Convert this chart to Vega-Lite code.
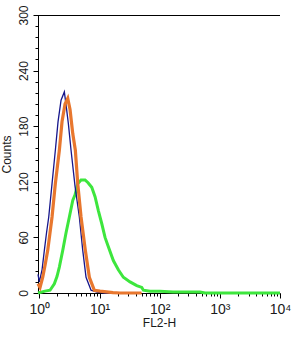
{
  "$schema": "https://vega.github.io/schema/vega-lite/v6.json",
  "width": 242,
  "height": 278,
  "autosize": {"type": "none"},
  "padding": {"left": 38, "top": 15, "right": 25, "bottom": 49},
  "config": {
    "view": {"stroke": null},
    "font": "Liberation Sans",
    "axis": {"grid": false, "domainColor": "#000", "tickColor": "#000", "labelColor": "#1a1a1a", "titleColor": "#1a1a1a", "labelFont": "Liberation Sans", "titleFont": "Liberation Sans", "titleFontWeight": "normal"}
  },
  "data": {
    "values": [
      {"series": "green", "fl2h": 0.95, "count": 0},
      {"series": "green", "fl2h": 1.244, "count": 2},
      {"series": "green", "fl2h": 1.506, "count": 3},
      {"series": "green", "fl2h": 1.776, "count": 10},
      {"series": "green", "fl2h": 1.969, "count": 18},
      {"series": "green", "fl2h": 2.15, "count": 28},
      {"series": "green", "fl2h": 2.449, "count": 46},
      {"series": "green", "fl2h": 2.779, "count": 65},
      {"series": "green", "fl2h": 3.153, "count": 82},
      {"series": "green", "fl2h": 3.592, "count": 100},
      {"series": "green", "fl2h": 3.922, "count": 106},
      {"series": "green", "fl2h": 4.348, "count": 118},
      {"series": "green", "fl2h": 4.933, "count": 122},
      {"series": "green", "fl2h": 5.749, "count": 122},
      {"series": "green", "fl2h": 6.449, "count": 119},
      {"series": "green", "fl2h": 7.43, "count": 114},
      {"series": "green", "fl2h": 8.433, "count": 104},
      {"series": "green", "fl2h": 9.566, "count": 89},
      {"series": "green", "fl2h": 10.89, "count": 75},
      {"series": "green", "fl2h": 12.36, "count": 60},
      {"series": "green", "fl2h": 14.03, "count": 50},
      {"series": "green", "fl2h": 16.98, "count": 35},
      {"series": "green", "fl2h": 20.56, "count": 25},
      {"series": "green", "fl2h": 24.91, "count": 17},
      {"series": "green", "fl2h": 32.19, "count": 12},
      {"series": "green", "fl2h": 41.6, "count": 8},
      {"series": "green", "fl2h": 50.4, "count": 6},
      {"series": "green", "fl2h": 53.6, "count": 3},
      {"series": "green", "fl2h": 69.2, "count": 2},
      {"series": "green", "fl2h": 101.4, "count": 2},
      {"series": "green", "fl2h": 166.7, "count": 1},
      {"series": "green", "fl2h": 469, "count": 1},
      {"series": "green", "fl2h": 568, "count": 0},
      {"series": "green", "fl2h": 10000, "count": 0},
      {"series": "blue", "fl2h": 0.95, "count": 20},
      {"series": "blue", "fl2h": 1.0, "count": 12},
      {"series": "blue", "fl2h": 1.109, "count": 25},
      {"series": "blue", "fl2h": 1.211, "count": 46},
      {"series": "blue", "fl2h": 1.317, "count": 65},
      {"series": "blue", "fl2h": 1.433, "count": 82},
      {"series": "blue", "fl2h": 1.626, "count": 118},
      {"series": "blue", "fl2h": 1.845, "count": 154},
      {"series": "blue", "fl2h": 2.046, "count": 185},
      {"series": "blue", "fl2h": 2.295, "count": 208},
      {"series": "blue", "fl2h": 2.604, "count": 217},
      {"series": "blue", "fl2h": 2.779, "count": 203},
      {"series": "blue", "fl2h": 3.034, "count": 183},
      {"series": "blue", "fl2h": 3.365, "count": 154},
      {"series": "blue", "fl2h": 3.922, "count": 115},
      {"series": "blue", "fl2h": 4.622, "count": 82},
      {"series": "blue", "fl2h": 5.265, "count": 46},
      {"series": "blue", "fl2h": 5.973, "count": 17},
      {"series": "blue", "fl2h": 7.235, "count": 3},
      {"series": "blue", "fl2h": 9.101, "count": 1},
      {"series": "blue", "fl2h": 12.36, "count": 0},
      {"series": "blue", "fl2h": 30, "count": 0},
      {"series": "orange", "fl2h": 0.95, "count": 10},
      {"series": "orange", "fl2h": 1.027, "count": 6},
      {"series": "orange", "fl2h": 1.139, "count": 17},
      {"series": "orange", "fl2h": 1.244, "count": 30},
      {"series": "orange", "fl2h": 1.379, "count": 46},
      {"series": "orange", "fl2h": 1.626, "count": 82},
      {"series": "orange", "fl2h": 1.845, "count": 118},
      {"series": "orange", "fl2h": 2.15, "count": 154},
      {"series": "orange", "fl2h": 2.384, "count": 185},
      {"series": "orange", "fl2h": 2.674, "count": 204},
      {"series": "orange", "fl2h": 2.966, "count": 210},
      {"series": "orange", "fl2h": 3.238, "count": 198},
      {"series": "orange", "fl2h": 3.592, "count": 172},
      {"series": "orange", "fl2h": 3.967, "count": 154},
      {"series": "orange", "fl2h": 4.348, "count": 118},
      {"series": "orange", "fl2h": 4.933, "count": 82},
      {"series": "orange", "fl2h": 5.815, "count": 46},
      {"series": "orange", "fl2h": 6.779, "count": 17},
      {"series": "orange", "fl2h": 8.209, "count": 3},
      {"series": "orange", "fl2h": 10.2, "count": 2},
      {"series": "orange", "fl2h": 16.79, "count": 0.5},
      {"series": "orange", "fl2h": 21.9, "count": 0},
      {"series": "orange", "fl2h": 50, "count": 0}
    ]
  },
  "layer": [
    {
      "encoding": {
        "x": {
          "field": "fl2h", "type": "quantitative",
          "scale": {"type": "log", "domain": [0.95, 10000], "nice": false},
          "axis": {"orient": "bottom", "values": [1, 10, 100, 1000, 10000], "labelExpr": "'10' + ['⁰','¹','²','³','⁴'][round(log(datum.value)/LN10)]", "labelFontSize": 14, "tickSize": 5, "labelPadding": 4, "title": "FL2-H", "titleFontSize": 12, "titlePadding": 1, "labelFlush": false, "labelOverlap": false}
        },
        "y": {
          "field": "count", "type": "quantitative",
          "scale": {"domain": [0, 300], "nice": false},
          "axis": {"orient": "left", "values": [0, 60, 120, 180, 240, 300], "labelAngle": 270, "labelFontSize": 12, "tickSize": 5, "labelPadding": 3, "title": "Counts", "titleFontSize": 12, "titlePadding": 4, "labelFlush": false}
        }
      },
      "layer": [
        {"transform": [{"filter": "datum.series === 'green'"}], "mark": {"type": "line", "color": "#3de63d", "strokeWidth": 3}},
        {"transform": [{"filter": "datum.series === 'blue'"}], "mark": {"type": "line", "color": "#16168c", "strokeWidth": 1.3}},
        {"transform": [{"filter": "datum.series === 'orange'"}], "mark": {"type": "line", "color": "#e8772e", "strokeWidth": 3.2}}
      ]
    },
    {
      "mark": {"type": "rule", "color": "#000", "strokeWidth": 1, "yOffset": 0.5},
      "encoding": {
        "x": {"datum": 0.95, "type": "quantitative", "scale": {"type": "log", "domain": [0.95, 10000], "nice": false},
          "axis": {"orient": "bottom", "values": [2,3,4,5,6,7,8,9,20,30,40,50,60,70,80,90,200,300,400,500,600,700,800,900,2000,3000,4000,5000,6000,7000,8000,9000], "labels": false, "domain": false, "tickSize": 3, "title": null}},
        "x2": {"datum": 10000},
        "y": {"datum": 300, "type": "quantitative", "scale": {"domain": [0, 300], "nice": false},
          "axis": {"orient": "left", "values": [12,24,36,48,72,84,96,108,132,144,156,168,192,204,216,228,252,264,276,288], "labels": false, "domain": false, "tickSize": 3, "title": null}}
      }
    }
  ],
  "resolve": {"axis": {"x": "independent", "y": "independent"}}
}
